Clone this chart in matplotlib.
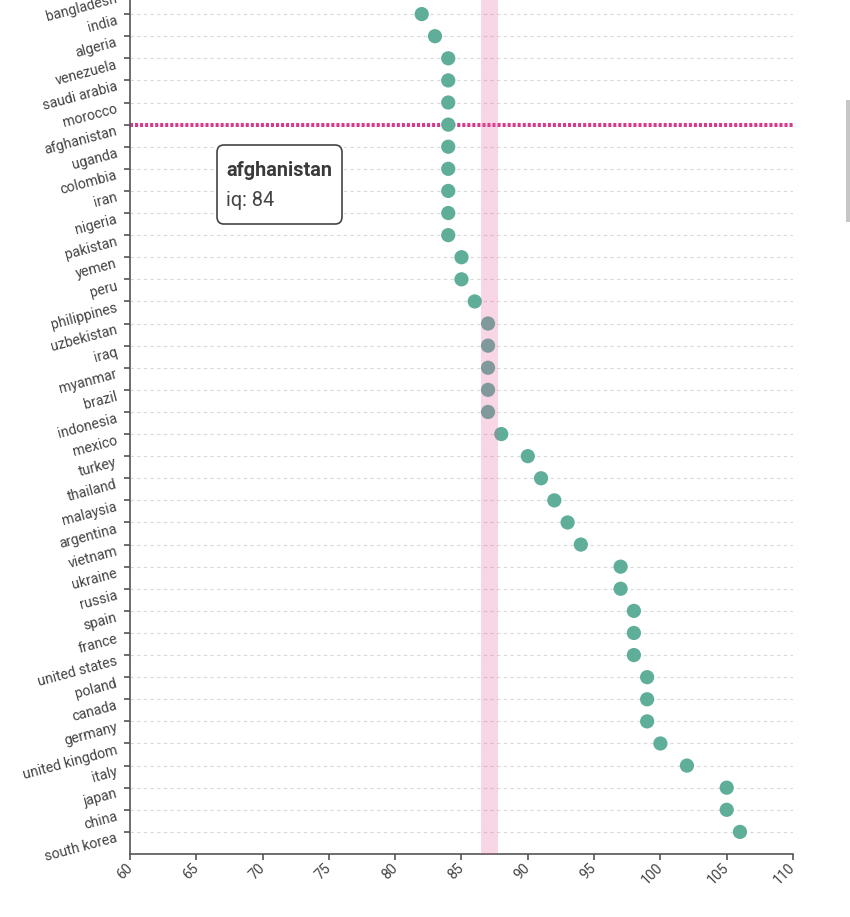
import numpy as np
import matplotlib
matplotlib.use('Agg')
import matplotlib.pyplot as plt
from matplotlib import rcParams
from matplotlib.patches import FancyBboxPatch, Rectangle
from matplotlib.transforms import ScaledTranslation

rcParams['font.family'] = ['Roboto', 'DejaVu Sans']

# data
countries = ['bangladesh', 'india', 'algeria', 'venezuela', 'saudi arabia', 'morocco',
             'afghanistan', 'uganda', 'colombia', 'iran', 'nigeria', 'pakistan', 'yemen',
             'peru', 'philippines', 'uzbekistan', 'iraq', 'myanmar', 'brazil', 'indonesia',
             'mexico', 'turkey', 'thailand', 'malaysia', 'argentina', 'vietnam', 'ukraine',
             'russia', 'spain', 'france', 'united states', 'poland', 'canada', 'germany',
             'united kingdom', 'italy', 'japan', 'china', 'south korea']
iq = [81, 82, 83, 84, 84, 84,
      84, 84, 84, 84, 84, 84, 85,
      85, 86, 87, 87, 87, 87, 87,
      88, 90, 91, 92, 93, 94, 97,
      97, 98, 98, 98, 99, 99, 99,
      100, 102, 105, 105, 106]
band = (86.5, 87.75)
hovered = 'afghanistan'
x_ticks = [60, 65, 70, 75, 80, 85, 90, 95, 100, 105, 110]

W, H = 850, 917
fig = plt.figure(figsize=(W / 100, H / 100), dpi=100)

# axis box in pixels (the top runs off the figure, as in the screenshot)
left, right, bottom, top = 130, 793, 854, -30.1
ax = fig.add_axes([left / W, (H - bottom) / H, (right - left) / W, (bottom - top) / H])

ypos = np.arange(len(countries))
axis_col = '#555555'
text_col = '#444444'

# gridlines
for y in ypos:
    ax.axhline(y, color='#d9d9d9', lw=0.8, ls=(0, (3, 3)), zorder=1)

# hovered row
hi = countries.index(hovered)
ax.axhline(hi, color='#d63a8c', lw=2.9, ls=(0, (0.75, 0.5)), zorder=2)

ax.scatter(iq, ypos, s=105, color='#5fae99', edgecolors='none', zorder=3)

ax.axvspan(band[0], band[1], color='#e65c9f', alpha=0.25, lw=0, zorder=4)

ax.set_xlim(60, 110)
ax.set_ylim(len(countries), -1)
ax.set_xticks(x_ticks)
ax.set_xticklabels([str(t) for t in x_ticks], rotation=45, ha='right', va='center',
                   rotation_mode='anchor', color=text_col, fontsize=10.2)
ax.set_yticks(ypos)
ax.set_yticklabels([])

# y labels drawn by hand so they can sit a little below their ticks
lab_tr = ax.get_yaxis_transform() + ScaledTranslation(-0.12, -0.10, fig.dpi_scale_trans)
for y, name in zip(ypos, countries):
    ax.text(0, y, name, transform=lab_tr, rotation=15, ha='right', va='baseline',
            rotation_mode='anchor', color=text_col, fontsize=10.2, clip_on=False)

for s in ['top', 'right']:
    ax.spines[s].set_visible(False)
for s in ['left', 'bottom']:
    ax.spines[s].set_color(axis_col)
    ax.spines[s].set_linewidth(1.2)
ax.tick_params(axis='both', direction='out', length=4.5, width=1.2, color=axis_col)
ax.tick_params(axis='x', pad=4)

# tooltip
tip = FancyBboxPatch((217 / W, 1 - 224 / H), 125 / W, 79 / H,
                     boxstyle='round,pad=0,rounding_size=0.008',
                     transform=fig.transFigure, facecolor='white',
                     edgecolor='#444444', lw=1.2, zorder=10)
fig.patches.append(tip)
fig.text(226 / W, 1 - 170 / H, hovered, fontsize=14.3, fontweight='bold',
         color='#3a3a3a', va='center', ha='left', zorder=11)
fig.text(226 / W, 1 - 200 / H, 'iq: %d' % iq[hi], fontsize=14.3,
         color='#444444', va='center', ha='left', zorder=11)

# scrollbar
fig.patches.append(Rectangle((846 / W, 1 - 222 / H), 4 / W, 122 / H,
                             transform=fig.transFigure, facecolor='#c6c6c6',
                             edgecolor='none'))

fig.savefig('out.png', dpi=100)
plt.close(fig)
